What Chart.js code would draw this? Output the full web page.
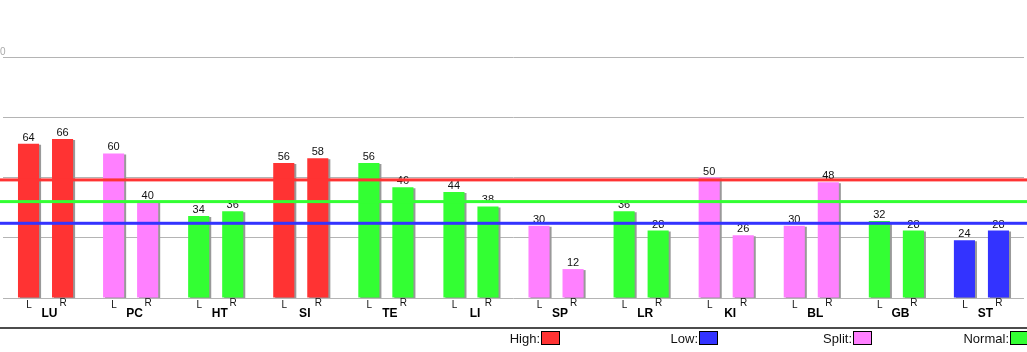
<!DOCTYPE html>
<html>
<head>
  <title>L / R bar chart</title>
  <script src="https://cdn.jsdelivr.net/npm/chart.js"></script>
  <style>
    body { margin: 0; background: #fff; overflow: hidden; }
    #wrap { position: relative; width: 1027px; height: 352px; }
    .leg { position: absolute; top: 331px; width: 19px; font: 13px "Liberation Sans", Arial, sans-serif; color: #111; height: 14px; line-height: 15px; }
    .leg span { position: absolute; right: 20px; top: 0; white-space: nowrap; }
    .leg i { position: absolute; left: 0; top: 0; width: 17px; height: 12px; border: 1px solid #000; }
  </style>
</head>
<body>
  <div id="wrap">
    <canvas id="chart" width="1027" height="352"></canvas>
  </div>

  <script>
    // chart data
    const categories = ['LU', 'PC', 'HT', 'SI', 'TE', 'LI', 'SP', 'LR', 'KI', 'BL', 'GB', 'ST'];
    const leftValues = [64, 60, 34, 56, 56, 44, 30, 36, 50, 30, 32, 24];
    const rightValues = [66, 40, 36, 58, 46, 38, 12, 28, 26, 48, 28, 28];
    const groupClass = ['High', 'Split', 'Normal', 'High', 'Normal', 'Normal', 'Split', 'Normal', 'Split', 'Split', 'Normal', 'Low'];
    const sideLabels = ['L', 'R'];
    const yTicks = [0, 25, 50, 75, 100];
    // reference levels drawn across the chart
    const levelNames = ['High', 'Normal', 'Low'];
    const levelValues = [49, 40, 31];

    const classColors = { High: '#ff3333', Low: '#3333ff', Split: '#ff80ff', Normal: '#33ff33' };
    const legendOrder = ['High', 'Low', 'Split', 'Normal'];
    const legendLeft = [541, 699, 853, 1010];

    const barColors = groupClass.map(c => classColors[c]);
    const FONT = '"Liberation Sans", Arial, sans-serif';

    // legend is plain html under the chart
    const wrap = document.getElementById('wrap');
    legendOrder.forEach((name, i) => {
      const d = document.createElement('div');
      d.className = 'leg';
      d.style.left = legendLeft[i] + 'px';
      d.innerHTML = '<span>' + name + ':</span><i style="background:' + classColors[name] + '"></i>';
      wrap.appendChild(d);
    });

    // shadows, value labels, L/R labels, level lines
    const decorPlugin = {
      id: 'decor',
      beforeDatasetDraw(chart) {
        const ctx = chart.ctx;
        ctx.save();
        ctx.shadowColor = '#999';
        ctx.shadowOffsetX = 2;
        ctx.shadowOffsetY = 1;
        ctx.shadowBlur = 0;
      },
      afterDatasetDraw(chart) {
        chart.ctx.restore();
      },
      afterDatasetsDraw(chart) {
        const ctx = chart.ctx;
        const yScale = chart.scales.y;
        ctx.save();
        // top tick value, its left part runs off the canvas
        ctx.font = '10px ' + FONT;
        ctx.fillStyle = '#aaa';
        ctx.textAlign = 'right';
        ctx.textBaseline = 'alphabetic';
        ctx.fillText(String(yScale.max), 5.5, yScale.getPixelForValue(yScale.max) - 2.5);

        chart.data.datasets.forEach((ds, di) => {
          const meta = chart.getDatasetMeta(di);
          meta.data.forEach((bar, i) => {
            ctx.textAlign = 'center';
            ctx.fillStyle = '#111';
            ctx.font = '11px ' + FONT;
            ctx.fillText(String(ds.data[i]), bar.x, bar.y - 3);
            ctx.font = '10px ' + FONT;
            ctx.fillText(sideLabels[di], bar.x + 0.5, di === 0 ? 307.5 : 306);
          });
        });

        levelValues.forEach((v, i) => {
          const y = yScale.getPixelForValue(v);
          ctx.fillStyle = classColors[levelNames[i]];
          ctx.fillRect(0, y - 1.5, chart.width, 3);
        });

        ctx.fillStyle = '#000';
        ctx.fillRect(0, 327.3, chart.width, 1.4);
        ctx.restore();
      }
    };

    new Chart(document.getElementById('chart'), {
      type: 'bar',
      data: {
        labels: categories,
        datasets: [
          { label: sideLabels[0], data: leftValues, backgroundColor: barColors, borderWidth: 0 },
          { label: sideLabels[1], data: rightValues, backgroundColor: barColors, borderWidth: 0 }
        ]
      },
      options: {
        responsive: false,
        animation: false,
        events: [],
        categoryPercentage: 0.8,
        barPercentage: 0.62,
        layout: { padding: { top: 57, left: 3, right: 3, bottom: 0 } },
        plugins: {
          legend: { display: false },
          tooltip: { enabled: false }
        },
        scales: {
          x: {
            grid: { display: false, drawTicks: false },
            border: { display: false },
            ticks: {
              padding: 8,
              labelOffset: 4,
              color: '#000',
              font: { family: FONT, size: 12, weight: 'bold' }
            },
            afterFit(scale) { scale.height = 54; }
          },
          y: {
            min: 0,
            max: 100,
            afterBuildTicks(scale) { scale.ticks = yTicks.map(v => ({ value: v })); },
            grid: { color: '#b4b4b4', lineWidth: 1, drawTicks: false },
            border: { display: false },
            ticks: { display: false },
            afterFit(scale) { scale.width = 0; }
          }
        }
      },
      plugins: [decorPlugin]
    });
  </script>
</body>
</html>
